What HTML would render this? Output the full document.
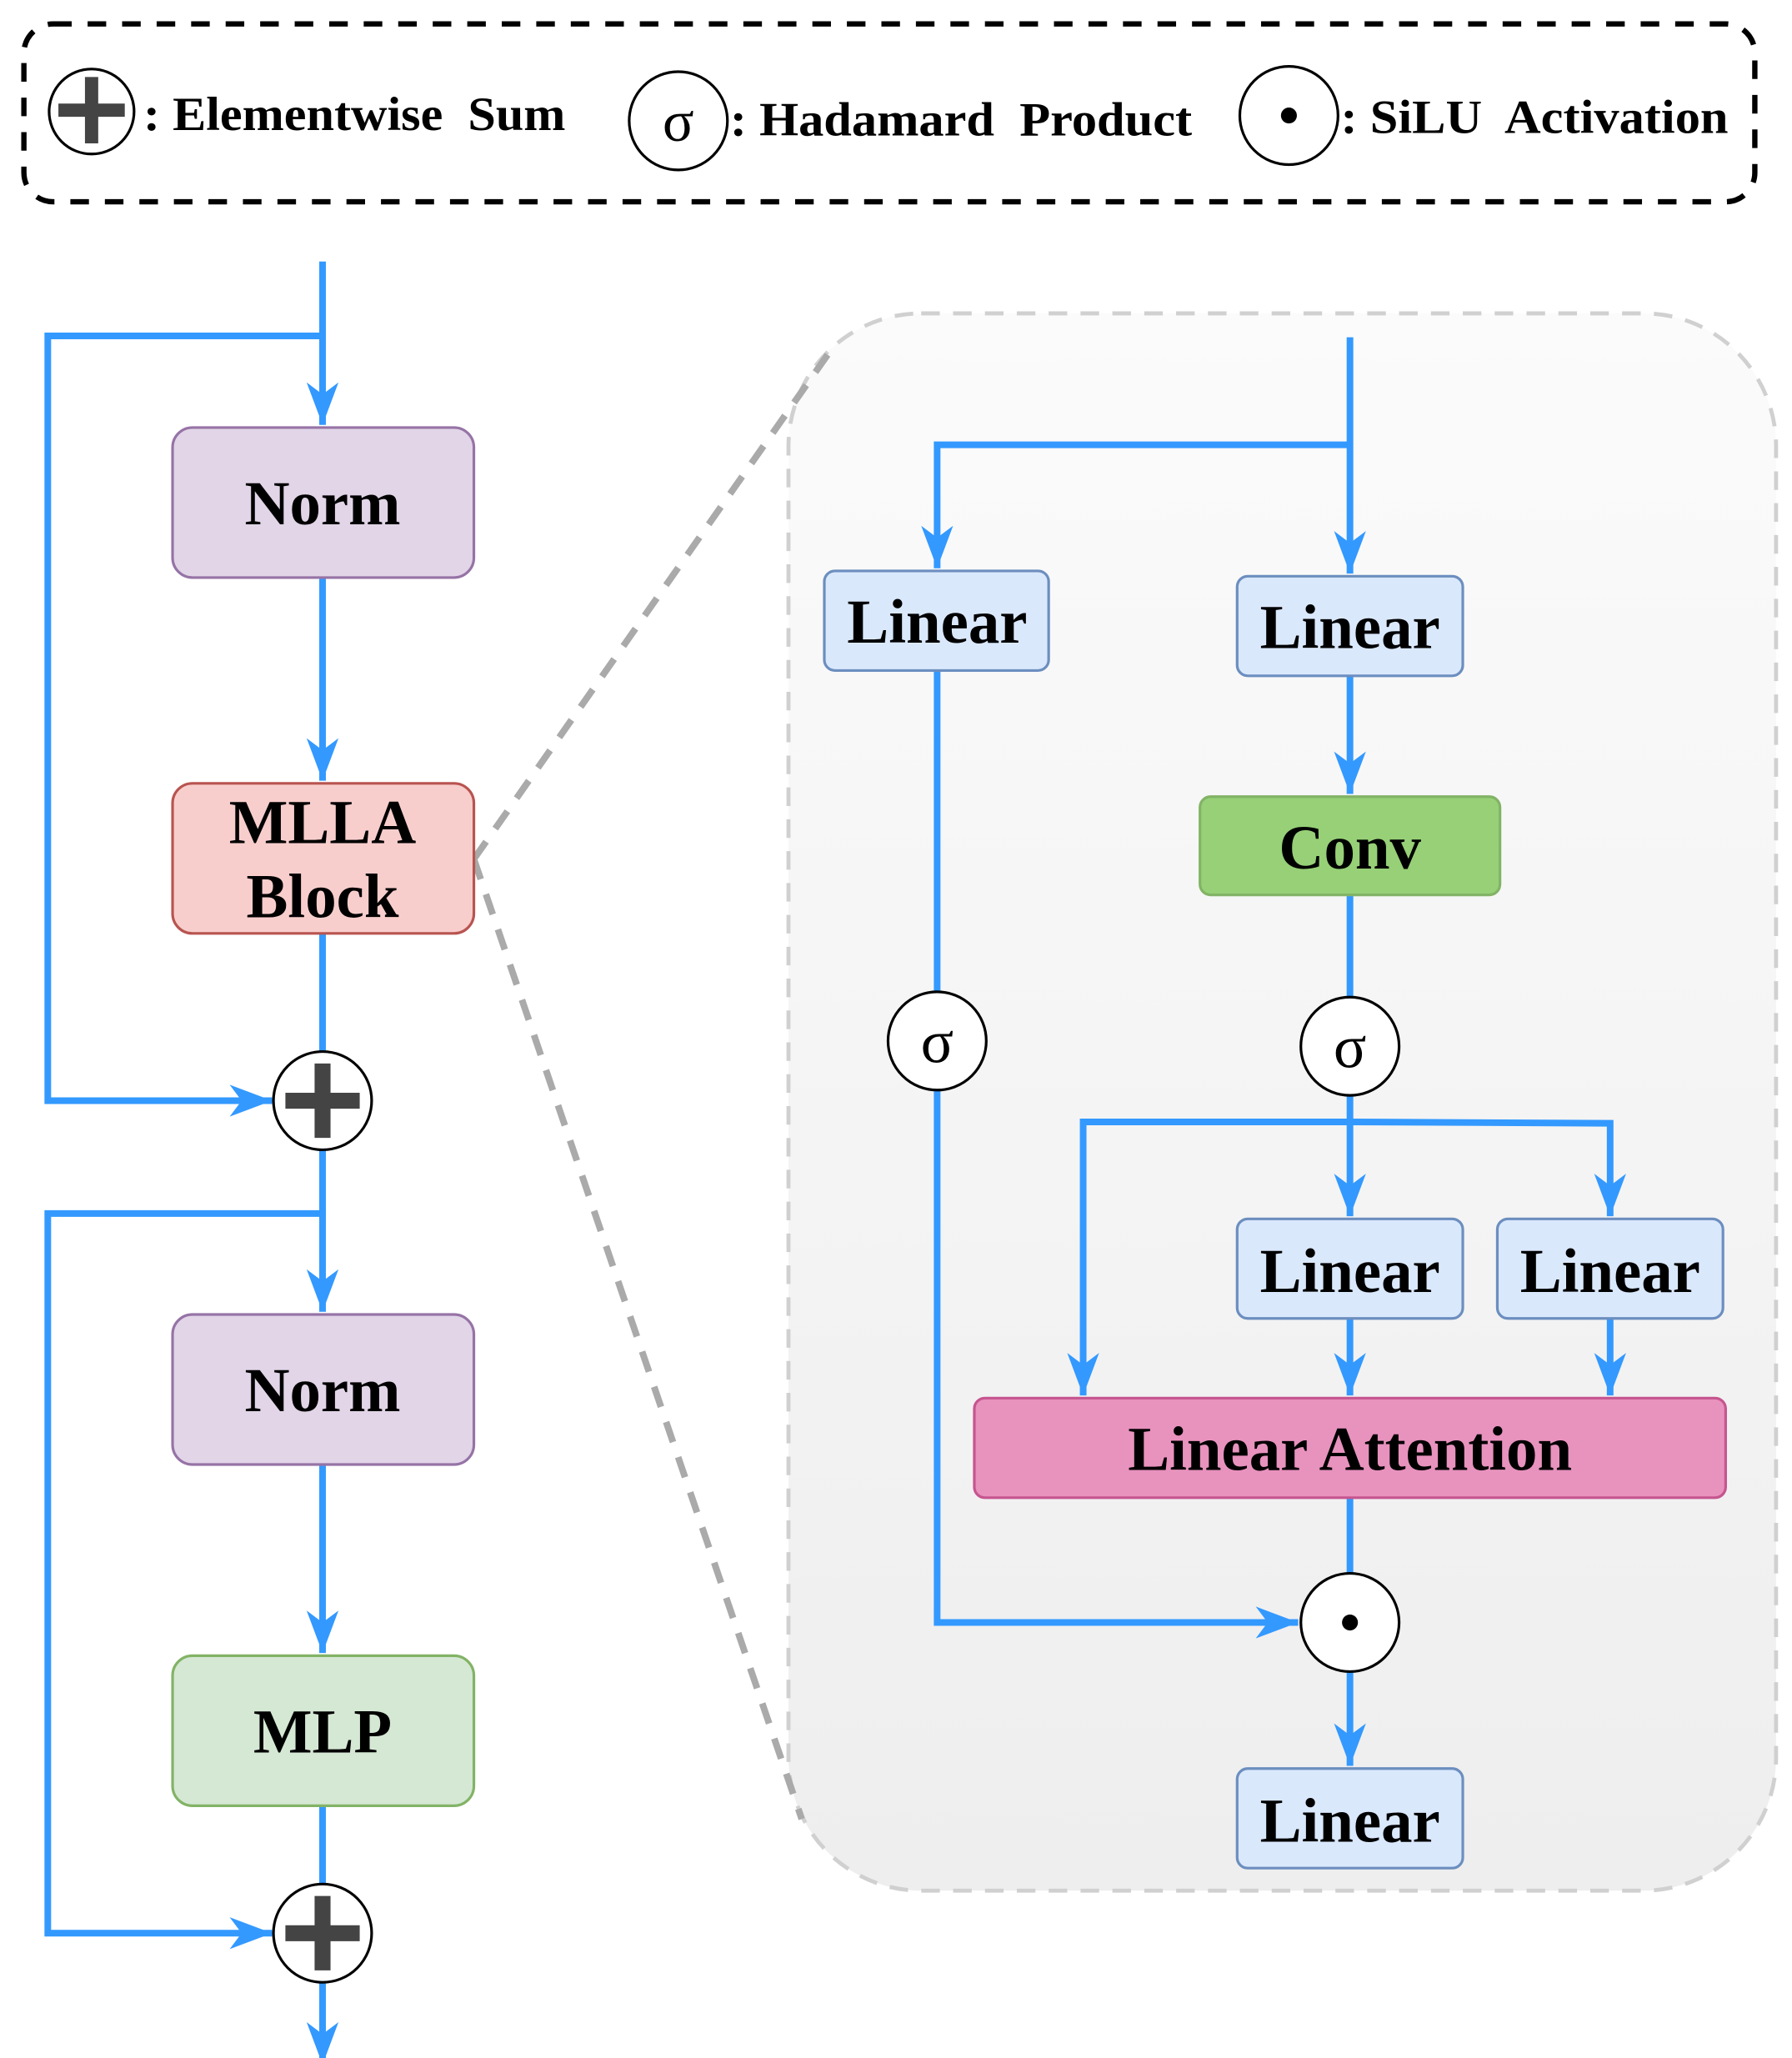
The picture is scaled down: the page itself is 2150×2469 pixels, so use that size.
<!DOCTYPE html>
<html><head><meta charset="utf-8"><style>
html,body{margin:0;padding:0;background:#fff;}
svg{display:block;}
text{font-family:"Liberation Serif",serif;font-weight:bold;fill:#000;white-space:pre;}
text.s{font-weight:normal;}
</style></head><body>
<svg width="2150" height="2469" viewBox="0 0 1350 1550" preserveAspectRatio="none" xmlns="http://www.w3.org/2000/svg">
<defs>
<linearGradient id="g" x1="0" y1="0" x2="0" y2="1"><stop offset="0" stop-color="#fbfbfb"/><stop offset="1" stop-color="#eeeeee"/></linearGradient>
<marker id="a" markerUnits="userSpaceOnUse" markerWidth="34" markerHeight="26" refX="32" refY="13" orient="auto" viewBox="0 0 34 26"><path d="M0,1 L32,13 L0,25 L9,13 z" fill="#3399ff"/></marker>
</defs>
<!-- legend -->
<rect x="18" y="18" width="1304" height="134" rx="22" fill="none" stroke="#000" stroke-width="4" stroke-dasharray="14,12"/>
<circle cx="69" cy="84" r="32" fill="#fff" stroke="#000" stroke-width="2"/>
<path d="M64,58h10v20h20v10h-20v20h-10v-20h-20v-10h20z" fill="#444"/>
<text x="108" y="98" font-size="36" textLength="318" lengthAdjust="spacingAndGlyphs">: Elementwise  Sum</text>
<circle cx="511" cy="91" r="37" fill="#fff" stroke="#000" stroke-width="2"/>
<text class="s" x="511" y="106" font-size="44" text-anchor="middle">σ</text>
<text x="550" y="102" font-size="36" textLength="348" lengthAdjust="spacingAndGlyphs">: Hadamard  Product</text>
<circle cx="971" cy="87" r="37" fill="#fff" stroke="#000" stroke-width="2"/>
<circle cx="971" cy="87" r="6" fill="#000"/>
<text x="1010" y="100" font-size="36" textLength="292" lengthAdjust="spacingAndGlyphs">: SiLU  Activation</text>

<!-- right panel -->
<rect x="594" y="236" width="744" height="1188" rx="100" fill="url(#g)" stroke="#d0d0d0" stroke-width="3" stroke-dasharray="14,10"/>
<line x1="357" y1="647" x2="625" y2="265" stroke="#aaa" stroke-width="5" stroke-dasharray="16,12"/>
<line x1="357" y1="647" x2="604" y2="1370" stroke="#aaa" stroke-width="5" stroke-dasharray="16,12"/>

<g stroke="#3399ff" stroke-width="5" fill="none">
<line x1="243" y1="197" x2="243" y2="320" marker-end="url(#a)"/>
<polyline points="243,253 36,253 36,829 205,829" marker-end="url(#a)"/>
<line x1="243" y1="435" x2="243" y2="588" marker-end="url(#a)"/>
<line x1="243" y1="703" x2="243" y2="792"/>
<line x1="243" y1="866" x2="243" y2="988" marker-end="url(#a)"/>
<polyline points="243,914 36,914 36,1456 205,1456" marker-end="url(#a)"/>
<line x1="243" y1="1103" x2="243" y2="1245" marker-end="url(#a)"/>
<line x1="243" y1="1360" x2="243" y2="1419"/>
<line x1="243" y1="1493" x2="243" y2="1555" marker-end="url(#a)"/>
<line x1="1017" y1="254" x2="1017" y2="432" marker-end="url(#a)"/>
<polyline points="1017,335 706,335 706,428" marker-end="url(#a)"/>
<line x1="1017" y1="509" x2="1017" y2="598" marker-end="url(#a)"/>
<line x1="1017" y1="674" x2="1017" y2="751"/>
<line x1="706" y1="505" x2="706" y2="747"/>
<polyline points="706,821 706,1222 978,1222" marker-end="url(#a)"/>
<line x1="1017" y1="825" x2="1017" y2="916" marker-end="url(#a)"/>
<polyline points="1017,845 816,845 816,1051" marker-end="url(#a)"/>
<polyline points="1017,845 1213,846 1213,916" marker-end="url(#a)"/>
<line x1="1017" y1="993" x2="1017" y2="1051" marker-end="url(#a)"/>
<line x1="1213" y1="993" x2="1213" y2="1051" marker-end="url(#a)"/>
<line x1="1017" y1="1128" x2="1017" y2="1185"/>
<line x1="1017" y1="1259" x2="1017" y2="1330" marker-end="url(#a)"/>
</g>

<rect x="130" y="322" width="227" height="113" rx="15" fill="#e1d5e7" stroke="#9673a6" stroke-width="2"/>
<text x="243" y="395" font-size="47" text-anchor="middle">Norm</text>
<rect x="130" y="590" width="227" height="113" rx="15" fill="#f8cecc" stroke="#b85450" stroke-width="2"/>
<text x="243" y="635" font-size="47" text-anchor="middle">MLLA</text>
<text x="243" y="691" font-size="47" text-anchor="middle">Block</text>
<rect x="130" y="990" width="227" height="113" rx="15" fill="#e1d5e7" stroke="#9673a6" stroke-width="2"/>
<text x="243" y="1063" font-size="47" text-anchor="middle">Norm</text>
<rect x="130" y="1247" width="227" height="113" rx="15" fill="#d5e8d4" stroke="#82b366" stroke-width="2"/>
<text x="243" y="1320" font-size="47" text-anchor="middle">MLP</text>
<circle cx="243" cy="829" r="37" fill="#fff" stroke="#000" stroke-width="2"/>
<path d="M237,801h12v22h22v12h-22v22h-12v-22h-22v-12h22z" fill="#444"/>
<circle cx="243" cy="1456" r="37" fill="#fff" stroke="#000" stroke-width="2"/>
<path d="M237,1428h12v22h22v12h-22v22h-12v-22h-22v-12h22z" fill="#444"/>

<rect x="621" y="430" width="169" height="75" rx="8" fill="#dae8fc" stroke="#6c8ebf" stroke-width="2"/>
<text x="706" y="484" font-size="47" text-anchor="middle">Linear</text>
<rect x="932" y="434" width="170" height="75" rx="8" fill="#dae8fc" stroke="#6c8ebf" stroke-width="2"/>
<text x="1017" y="488" font-size="47" text-anchor="middle">Linear</text>
<rect x="904" y="600" width="226" height="74" rx="8" fill="#97d077" stroke="#82b366" stroke-width="2"/>
<text x="1017" y="654" font-size="47" text-anchor="middle">Conv</text>
<rect x="932" y="918" width="170" height="75" rx="8" fill="#dae8fc" stroke="#6c8ebf" stroke-width="2"/>
<text x="1017" y="973" font-size="47" text-anchor="middle">Linear</text>
<rect x="1128" y="918" width="170" height="75" rx="8" fill="#dae8fc" stroke="#6c8ebf" stroke-width="2"/>
<text x="1213" y="973" font-size="47" text-anchor="middle">Linear</text>
<rect x="734" y="1053" width="566" height="75" rx="8" fill="#e892be" stroke="#c6558f" stroke-width="2"/>
<text x="1017" y="1107" font-size="47" text-anchor="middle">Linear Attention</text>
<rect x="932" y="1332" width="170" height="75" rx="8" fill="#dae8fc" stroke="#6c8ebf" stroke-width="2"/>
<text x="1017" y="1387" font-size="47" text-anchor="middle">Linear</text>
<circle cx="706" cy="784" r="37" fill="#fff" stroke="#000" stroke-width="2"/>
<text class="s" x="706" y="800" font-size="46" text-anchor="middle">σ</text>
<circle cx="1017" cy="788" r="37" fill="#fff" stroke="#000" stroke-width="2"/>
<text class="s" x="1017" y="804" font-size="46" text-anchor="middle">σ</text>
<circle cx="1017" cy="1222" r="37" fill="#fff" stroke="#000" stroke-width="2"/>
<circle cx="1017" cy="1222" r="6" fill="#000"/>
</svg>
</body></html>
